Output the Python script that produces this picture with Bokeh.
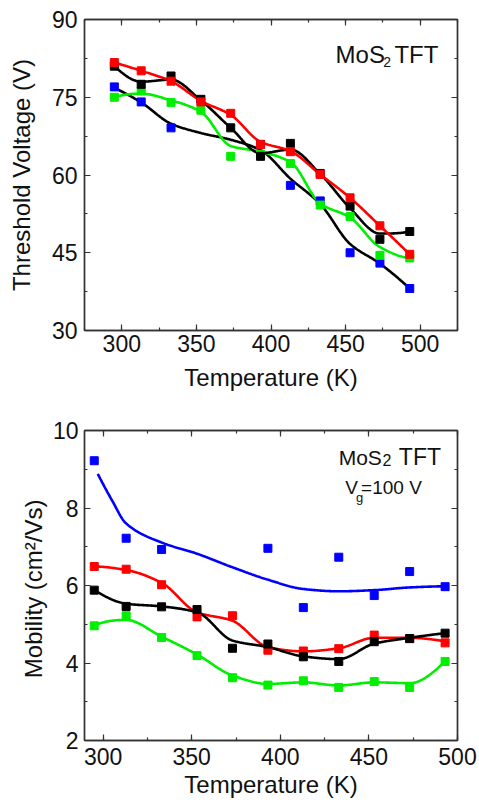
import numpy as np
from bokeh.plotting import figure
from bokeh.layouts import column
from bokeh.models import Range1d, LinearAxis, SingleIntervalTicker, Label
from bokeh.embed import file_html
from bokeh.resources import INLINE

NA = float("nan")

# ---------------- data ----------------
temps = [295, 313, 333, 353, 373, 393, 413, 433, 453, 473, 493]

# threshold voltage (V)
vth_red = [81.7, 80.1, 78.1, 74.1, 71.9, 65.9, 64.5, 60.1, 55.6, 50.2, 44.7]
vth_black = [81.0, 77.5, 79.1, 74.6, 69.1, 63.6, 66.1, 60.3, 54.0, 47.6, 49.1]
vth_blue = [77.0, 74.1, 69.1, NA, NA, 65.9, 58.0, 55.0, 45.0, 43.0, 38.1]
vth_green = [75.0, 76.2, 74.0, 72.5, 63.6, 64.0, 62.2, 54.2, 52.0, 44.5, 44.0]

# fitted curves for threshold voltage
vth_red_fit = [81.7, 80.1, 78.1, 74.3, 71.6, 66.4, 64.6, 60.1, 55.6, 50.2, 44.7]
vth_black_fit = [81.0, 78.0, 78.4, 74.4, 69.1, 64.2, 64.9, 60.2, 53.6, 48.7, 49.1]
vth_blue_fit = [76.8, 74.0, 69.9, 68.1, 66.8, 64.8, 59.3, 54.4, 46.7, 42.9, 38.1]
vth_green_fit = [75.0, 75.7, 74.4, 72.2, 65.6, 64.5, 62.5, 54.5, 51.8, 46.1, 44.0]

# mobility (cm2/Vs)
mu_blue = [9.22, 7.22, 6.93, NA, NA, 6.96, 5.43, 6.73, 5.74, 6.36, 5.97]
mu_red = [6.49, 6.42, 6.02, 5.19, 5.22, 4.33, 4.31, 4.37, 4.72, 4.63, 4.52]
mu_black = [5.88, 5.46, 5.45, 5.38, 4.38, 4.49, 4.16, 4.04, 4.55, 4.63, 4.77]
mu_green = [4.96, 5.22, 4.66, 4.19, 3.62, 3.43, 3.54, 3.37, 3.52, 3.37, 4.04]

# fitted curves for mobility
mu_blue_fit_t = [297, 305, 313, 333, 353, 373, 393, 413, 433, 453, 473, 493]
mu_blue_fit = [8.88, 8.20, 7.60, 7.11, 6.82, 6.47, 6.15, 5.91, 5.85, 5.88, 5.95, 5.98]
mu_red_fit = [6.49, 6.40, 6.07, 5.31, 5.09, 4.41, 4.30, 4.38, 4.65, 4.65, 4.56]
mu_black_fit = [5.88, 5.53, 5.46, 5.31, 4.58, 4.41, 4.17, 4.10, 4.50, 4.65, 4.77]
mu_green_fit = [4.96, 5.11, 4.68, 4.22, 3.68, 3.46, 3.50, 3.42, 3.50, 3.48, 4.04]

RED = "#FF0000"
BLACK = "#000000"
BLUE = "#0000FF"
GREEN = "#00EE00"
FONT = "Liberation Sans"
FRAME = "#333333"


def pchip(x, y, num=400):
    x = np.asarray(x, float)
    y = np.asarray(y, float)
    n = len(x)
    h = np.diff(x)
    dl = np.diff(y) / h
    d = np.zeros(n)
    for k in range(1, n - 1):
        if dl[k - 1] * dl[k] > 0:
            w1 = 2 * h[k] + h[k - 1]
            w2 = h[k] + 2 * h[k - 1]
            d[k] = (w1 + w2) / (w1 / dl[k - 1] + w2 / dl[k])

    def endslope(h0, h1, d0, d1):
        s = ((2 * h0 + h1) * d0 - h0 * d1) / (h0 + h1)
        if np.sign(s) != np.sign(d0):
            s = 0.0
        elif np.sign(d0) != np.sign(d1) and abs(s) > abs(3 * d0):
            s = 3 * d0
        return s

    d[0] = endslope(h[0], h[1], dl[0], dl[1])
    d[-1] = endslope(h[-1], h[-2], dl[-1], dl[-2])
    xx = np.linspace(x[0], x[-1], num)
    idx = np.clip(np.searchsorted(x, xx) - 1, 0, n - 2)
    t = (xx - x[idx]) / h[idx]
    h00 = 2 * t ** 3 - 3 * t ** 2 + 1
    h10 = t ** 3 - 2 * t ** 2 + t
    h01 = -2 * t ** 3 + 3 * t ** 2
    h11 = t ** 3 - t ** 2
    yy = (h00 * y[idx] + h10 * h[idx] * d[idx] + h01 * y[idx + 1]
          + h11 * h[idx] * d[idx + 1])
    return xx, yy


def tick_style(ax):
    ax.axis_line_color = FRAME
    ax.axis_line_width = 1.4
    ax.major_tick_in = 6
    ax.major_tick_out = 0
    ax.minor_tick_in = 3
    ax.minor_tick_out = 0
    ax.major_tick_line_color = FRAME
    ax.minor_tick_line_color = FRAME
    ax.major_tick_line_width = 1.2
    ax.minor_tick_line_width = 1.2


def style(p, xint, yint, tick_size, label_size, xstand, xlstand, ystand, ylstand):
    p.outline_line_color = FRAME
    p.outline_line_width = 1.4
    p.grid.visible = False
    p.background_fill_color = "white"
    p.border_fill_color = "white"
    for ax in p.xaxis:
        ax.ticker = SingleIntervalTicker(interval=xint, num_minor_ticks=2)
    for ax in p.yaxis:
        ax.ticker = SingleIntervalTicker(interval=yint, num_minor_ticks=2)
    for ax in list(p.xaxis) + list(p.yaxis):
        tick_style(ax)
        ax.major_label_text_font = FONT
        ax.major_label_text_font_size = tick_size
        ax.major_label_text_color = "#111111"
        ax.axis_label_text_font = FONT
        ax.axis_label_text_font_size = label_size
        ax.axis_label_text_font_style = "normal"
        ax.axis_label_text_color = "#111111"
    p.xaxis[0].major_label_standoff = xstand
    p.xaxis[0].axis_label_standoff = xlstand
    p.yaxis[0].major_label_standoff = ystand
    p.yaxis[0].axis_label_standoff = ylstand
    top = LinearAxis(ticker=SingleIntervalTicker(interval=xint, num_minor_ticks=2))
    right = LinearAxis(ticker=SingleIntervalTicker(interval=yint, num_minor_ticks=2))
    for ax in (top, right):
        tick_style(ax)
        ax.major_label_text_color = None
        ax.major_label_text_font_size = "6px"
        ax.major_label_standoff = 0
    p.add_layout(top, "above")
    p.add_layout(right, "right")


def label(p, x, y, text, size):
    p.add_layout(Label(x=x, y=y, text=text, text_font=FONT, text_font_size=size,
                       text_color="#111111", text_align="left",
                       text_baseline="alphabetic"))


# ---------------- top panel ----------------
p1 = figure(width=479, height=400, output_backend="svg", toolbar_location=None,
            x_range=Range1d(275, 525), y_range=Range1d(30, 90),
            min_border_left=84, min_border_right=11, min_border_top=19,
            min_border_bottom=70,
            x_axis_label="Temperature (K)", y_axis_label="Threshold Voltage (V)")
style(p1, 50, 15, "23px", "24px", 4, 9, 7, 14)

for fit, col in ((vth_blue_fit, BLACK), (vth_green_fit, GREEN),
                 (vth_black_fit, BLACK), (vth_red_fit, RED)):
    xx, yy = pchip(temps, fit)
    p1.line(xx, yy, line_color=col, line_width=2.6)
for vals, col in ((vth_blue, BLUE), (vth_green, GREEN), (vth_black, BLACK), (vth_red, RED)):
    p1.scatter(temps, vals, marker="square", size=8, fill_color=col, line_color=col)

label(p1, 443.3, 83.28, "MoS", "24px")
label(p1, 475.2, 81.73, "2", "14px")
label(p1, 482.7, 83.28, "TFT", "24px")

# ---------------- bottom panel ----------------
p2 = figure(width=479, height=406, output_backend="svg", toolbar_location=None,
            x_range=Range1d(289.5, 500), y_range=Range1d(2, 10),
            min_border_left=74, min_border_right=22, min_border_top=30,
            min_border_bottom=66,
            x_axis_label="Temperature (K)", y_axis_label="Mobility  (cm²/Vs)")
style(p2, 50, 2, "23px", "24px", 7, 3, 6, 3)

xx, yy = pchip(mu_blue_fit_t, mu_blue_fit)
p2.line(xx, yy, line_color=BLUE, line_width=2.6)
for fit, col in ((mu_green_fit, GREEN), (mu_red_fit, RED), (mu_black_fit, BLACK)):
    xx, yy = pchip(temps, fit)
    p2.line(xx, yy, line_color=col, line_width=2.6)
for vals, col in ((mu_blue, BLUE), (mu_green, GREEN), (mu_red, RED), (mu_black, BLACK)):
    p2.scatter(temps, vals, marker="square", size=8, fill_color=col, line_color=col)

label(p2, 432.95, 9.311, "MoS", "21px")
label(p2, 457.7, 9.25, "2", "16px")
label(p2, 466.9, 9.311, "TFT", "23px")
label(p2, 436.6, 8.537, "V", "19px")
label(p2, 442.7, 8.279, "g", "13px")
label(p2, 445.6, 8.537, "=100 V", "19px")

layout = column(p1, p2, spacing=0)
open("out.html", "w").write(file_html(layout, INLINE))
